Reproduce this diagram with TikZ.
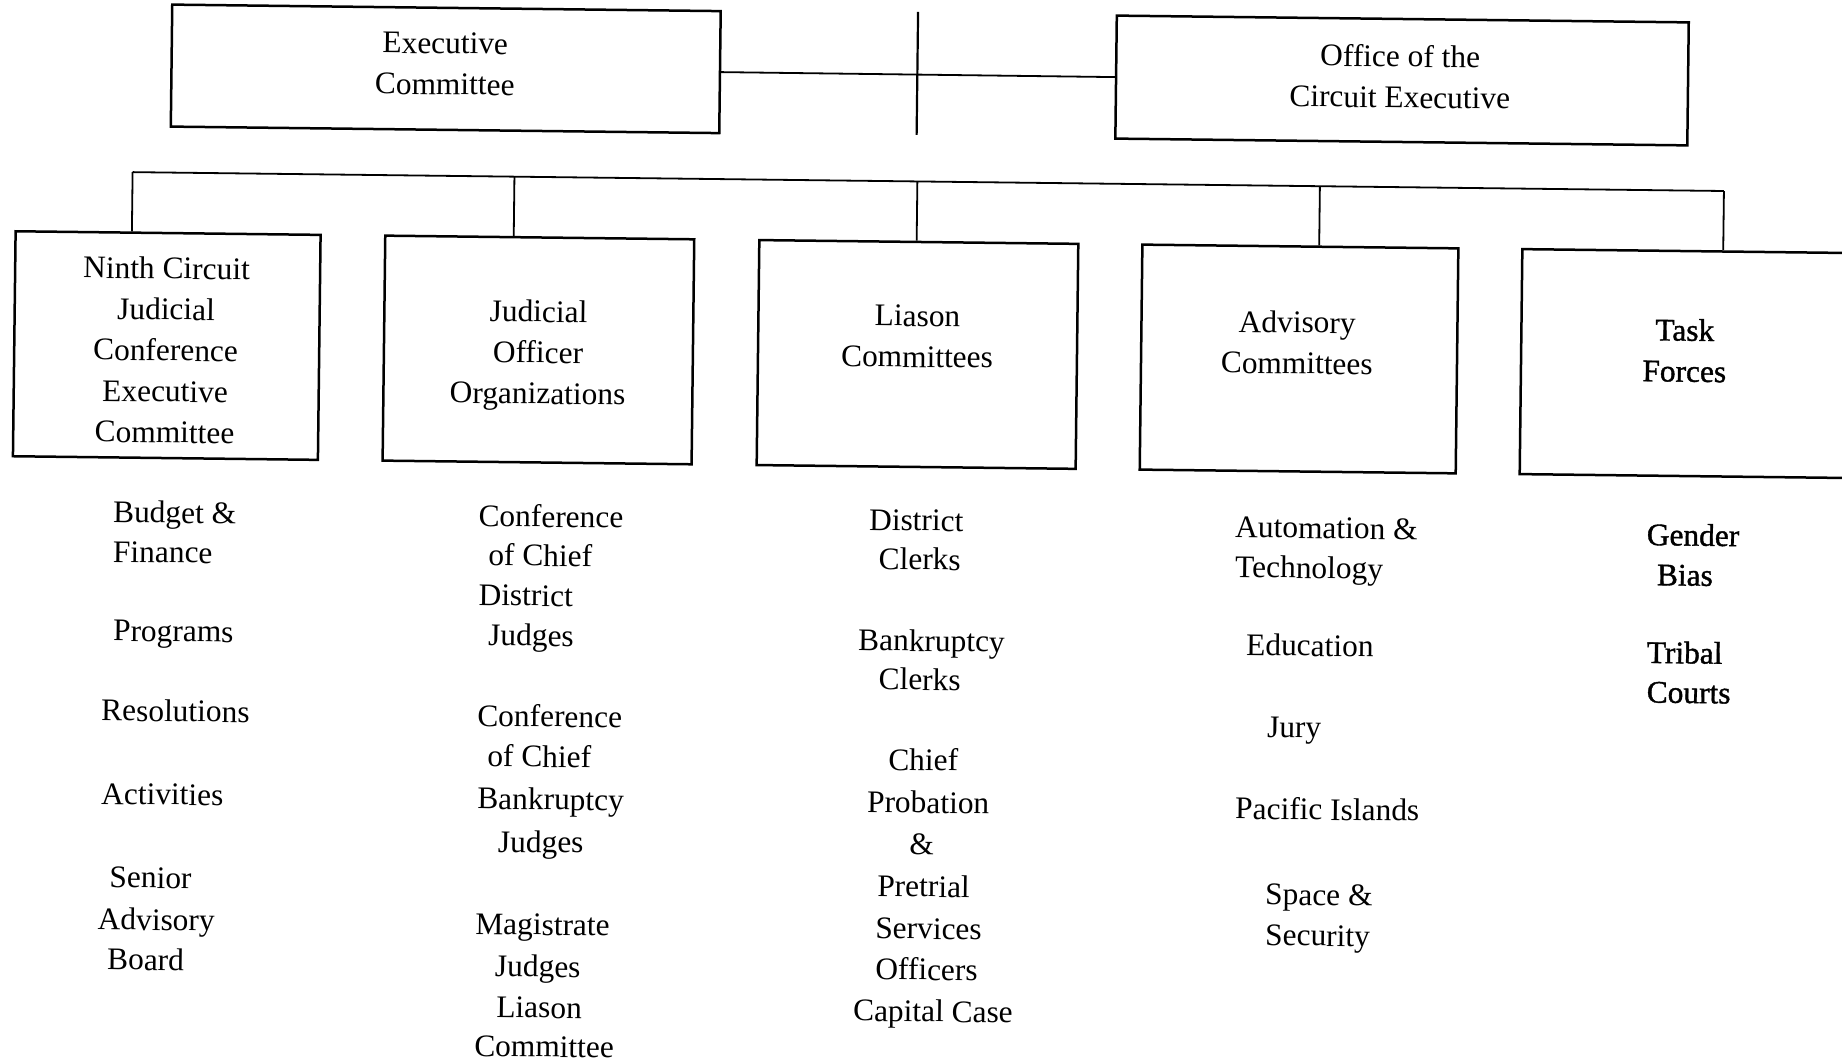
\documentclass[tikz,border=0pt]{standalone}
\usepackage{fontspec}
\setmainfont{Liberation Serif}
\newfontfamily\heavyserif[FakeBold=1.2]{Liberation Serif}

\tikzset{
  orgbox/.style={draw, line width=1.25pt, inner sep=0pt},
  wire/.style={line width=0.9pt},
  title/.style={align=center, inner sep=0pt, font=\fontsize{15.7}{20.5}\selectfont},
  item/.style={anchor=base west, inner sep=0pt, font=\fontsize{15.7}{20.5}\selectfont},
  heavy/.style={font=\heavyserif\fontsize{15.7}{20.5}\selectfont},
}

\begin{document}
\begin{tikzpicture}[x=0.5pt, y=-0.5pt]
\useasboundingbox (0,0) rectangle (1842,1061);

% the sheet sits slightly askew
\begin{scope}[rotate around={-0.68:(921,530)}, transform shape]

% top level
\node[orgbox, minimum width=274.25pt, minimum height=61pt] (ec)  at (440.3,74.5) {};
\node[orgbox, minimum width=286pt,    minimum height=61.5pt] (oce) at (1396.7,74.8) {};
\node[title] (ect)  at (439.5,69.5) {Executive\\Committee};
\node[title] (ocet) at (1394.6,70.7) {Office of the\\Circuit Executive};

\draw[wire] (ec.east) -- (oce.west);
\coordinate (vtop) at (912,12);
\coordinate (vbot) at (912,135);
\draw[line width=1.1pt] (vtop) -- (vbot);

% second level boxes
\node[orgbox, minimum width=152.5pt, minimum height=112.5pt] (b1) at (164.6,354.5) {};
\node[orgbox, minimum width=154.5pt, minimum height=112.5pt] (b2) at (536.3,354.5) {};
\node[orgbox, minimum width=159.5pt, minimum height=112.5pt] (b3) at (915.4,354.5) {};
\node[orgbox, minimum width=158pt,   minimum height=112.5pt] (b4) at (1297,354.5) {};
\node[orgbox, minimum width=170pt,   minimum height=112.5pt] (b5) at (1689,354.5) {};

\node[title] (b1t) at (163.5,359)   {Ninth Circuit\\Judicial\\Conference\\Executive\\Committee};
\node[title] (b2t) at (536,360)     {Judicial\\Officer\\Organizations};
\node[title] (b3t) at (915,336.5)   {Liason\\Committees};
\node[title] (b4t) at (1294.8,338)  {Advisory\\Committees};
\node[title, heavy] (b5t) at (1682.4,341.4) {Task\\Forces};

% bus and drops
\coordinate (j1) at (128.4,181.5);
\coordinate (j2) at (510.3,181.5);
\coordinate (j3) at (913.3,181.5);
\coordinate (j4) at (1315.9,181.5);
\coordinate (j5) at (1720,181.5);
\draw[wire] (j1) -- (j5);
\foreach \k in {1,...,5}
  \draw[wire] (j\k) -- (j\k |- b\k.north);

% lists under each box
\foreach \x/\y/\t [count=\i] in {
  112.6/531.8/Budget \&, 113/571.7/Finance, 114/650.4/Programs,
  103.1/730.3/Resolutions, 104.1/813.7/Activities, 113.3/897.1/Senior,
  102.1/939.4/Advisory, 112/979.3/Board}
  \node[item] (c1-\i) at (\x,\y) {\t};

\foreach \x/\y/\t [count=\i] in {
  478.1/531.5/Conference, 488.3/570.5/of Chief, 479.1/610.5/District,
  489.2/650.5/Judges, 479.2/731.3/Conference, 489.7/771.5/of Chief,
  480.2/814.2/Bankruptcy, 501.4/857/Judges, 479.7/939.5/Magistrate,
  499.9/981.5/Judges, 501.7/1022.5/Liason, 480.1/1061.5/Committee}
  \node[item] (c2-\i) at (\x,\y) {\t};

\foreach \x/\y/\t [count=\i] in {
  868.7/530.8/District, 878.7/569.7/Clerks, 859.2/651.2/Bankruptcy,
  880.1/690/Clerks, 890.7/770.5/Chief, 870/813/Probation, 912.7/855/\&,
  881.2/896.8/Pretrial, 879.7/939/Services, 880.2/980/Officers,
  858.5/1021.7/Capital Case}
  \node[item] (c3-\i) at (\x,\y) {\t};

\foreach \x/\y/\t [count=\i] in {
  1234.9/533.7/Automation \&, 1235.3/573.7/Technology,
  1247.2/651.5/Education, 1269.1/733/Jury, 1238.2/815.2/Pacific Islands,
  1269.2/900.5/Space \&, 1269.7/941.2/Security}
  \node[item] (c4-\i) at (\x,\y) {\t};

\foreach \x/\y/\t [count=\i] in {
  1646.5/536.5/Gender, 1657.1/576.5/Bias, 1647.9/654.3/Tribal,
  1648.3/693.9/Courts}
  \node[item, heavy] (c5-\i) at (\x,\y) {\t};

\end{scope}
\end{tikzpicture}
\end{document}
